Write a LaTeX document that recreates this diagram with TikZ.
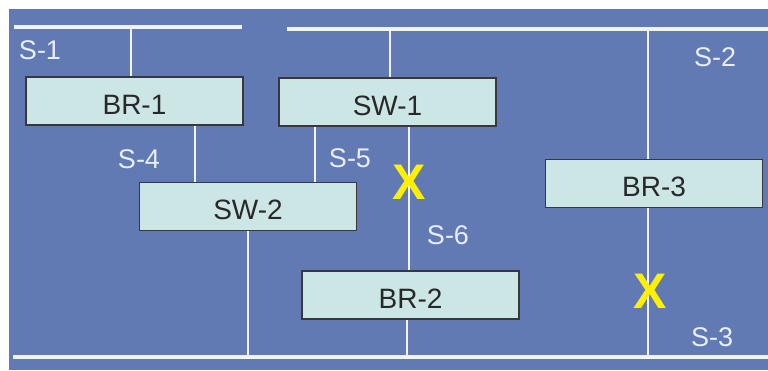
\documentclass[tikz,border=0pt]{standalone}
\usepackage{fontspec}
\setmainfont{Liberation Sans}
\definecolor{panel}{RGB}{98,122,180}
\definecolor{boxfill}{RGB}{204,229,229}
\definecolor{boxline}{RGB}{55,55,60}
\definecolor{boxtext}{RGB}{40,40,40}
\definecolor{wire}{RGB}{240,244,250}
\definecolor{labeltext}{RGB}{232,238,248}
\definecolor{fault}{RGB}{255,240,0}
\begin{document}
\begin{tikzpicture}[x=1pt,y=-1pt,
  unit/.style={draw=boxline,line width=1.4pt,fill=boxfill,rectangle,
    minimum width=217pt,minimum height=48pt,inner sep=0pt,
    text height=26pt,text depth=0pt,
    text=boxtext,font=\fontsize{28}{28}\selectfont},
  bus/.style={draw=wire,line width=3.5pt},
  tap/.style={draw=wire,line width=1.3pt},
  seg/.style={text=labeltext,font=\fontsize{27}{27}\selectfont,inner sep=0pt},
  cut/.style={text=fault,font=\fontsize{50}{50}\selectfont\bfseries,inner sep=0pt}]
\useasboundingbox (0,0) rectangle (768,370);
\fill[panel] (9,9) rectangle (768,370);

% bus bars
\coordinate (s1l) at (14,27);
\coordinate (s1r) at (242,27);
\coordinate (s2l) at (287,29);
\coordinate (s2r) at (768,29);
\coordinate (s3l) at (13,357);
\coordinate (s3r) at (768,357);
\draw[bus] (s1l) -- (s1r);
\draw[bus] (s2l) -- (s2r);
\draw[bus] (s3l) -- (s3r);

% equipment
\node[unit] (BR-1) at (134.5,101) {BR-1};
\node[unit] (SW-1) at (387.5,102) {SW-1};
\node[unit] (SW-2) at (248,206.5) {SW-2};
\node[unit] (BR-2) at (410.5,295) {BR-2};
\node[unit] (BR-3) at (654,183.5) {BR-3};

% taps from buses
\draw[tap] (131,27 |- s1l) -- (131,0 |- BR-1.north);
\draw[tap] (390,0 |- s2l) -- (390,0 |- SW-1.north);
\draw[tap] (648,0 |- s2l) -- (648,0 |- BR-3.north);
\draw[tap] (648,0 |- BR-3.south) -- (648,0 |- s3l);
\draw[tap] (195,0 |- BR-1.south) -- (195,0 |- SW-2.north);
\draw[tap] (315,0 |- SW-1.south) -- (315,0 |- SW-2.north);
\draw[tap] (409,0 |- SW-1.south) -- (409,0 |- BR-2.north);
\draw[tap] (248,0 |- SW-2.south) -- (248,0 |- s3l);
\draw[tap] (407,0 |- BR-2.south) -- (407,0 |- s3l);

% segment labels
\node[seg] (lS1) at (40,50) {S-1};
\node[seg] (lS2) at (715,57) {S-2};
\node[seg] (lS3) at (712,337) {S-3};
\node[seg] (lS4) at (139,159) {S-4};
\node[seg] (lS5) at (350,158) {S-5};
\node[seg] (lS6) at (448,235) {S-6};

% open points
\node[cut] (x1) at (409,182) {X};
\node[cut] (x2) at (650,291) {X};
\end{tikzpicture}
\end{document}
